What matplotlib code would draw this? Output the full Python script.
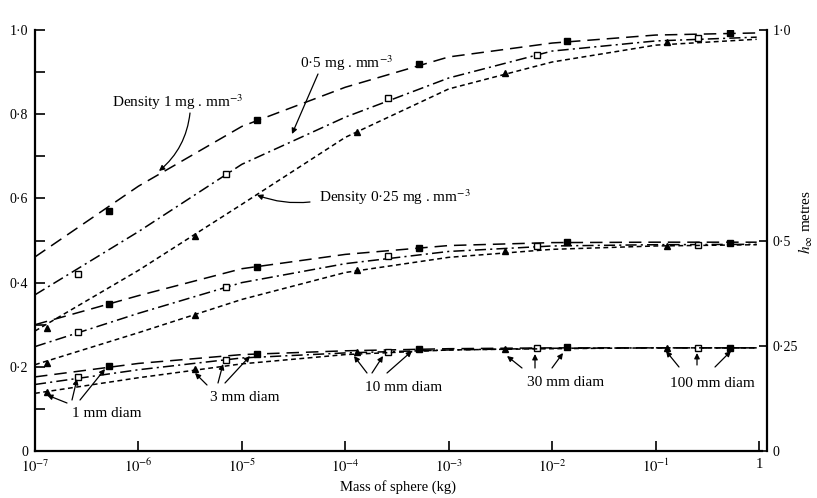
import numpy as np
import matplotlib
matplotlib.use('Agg')
import matplotlib.pyplot as plt
from matplotlib.ticker import FixedLocator, FixedFormatter, NullLocator

plt.rcParams['font.family'] = ['Liberation Serif', 'DejaVu Serif']
plt.rcParams['mathtext.fontset'] = 'stix'
plt.rcParams['lines.scale_dashes'] = False

# masses (kg) of the 1, 3, 10, 30, 100 mm spheres for each density
mass_d1 = [5.2e-7, 1.4e-5, 5.2e-4, 1.4e-2, 0.52]
mass_d05 = [2.6e-7, 7.1e-6, 2.6e-4, 7.1e-3, 0.26]
mass_d025 = [1.3e-7, 3.5e-6, 1.3e-4, 3.5e-3, 0.13]

curve_mass = [1e-7, 1e-6, 1e-5, 1e-4, 1e-3, 1e-2, 1e-1, 0.95]

# h_inf = 1.0 m
top_d1_curve = [0.461, 0.629, 0.771, 0.864, 0.936, 0.969, 0.988, 0.993]
top_d05_curve = [0.371, 0.521, 0.681, 0.793, 0.886, 0.950, 0.974, 0.983]
top_d025_curve = [0.285, 0.429, 0.586, 0.745, 0.860, 0.924, 0.964, 0.978]
top_d1_pts = [0.570, 0.786, 0.919, 0.974, 0.993]
top_d05_pts = [0.421, 0.657, 0.838, 0.941, 0.981]
top_d025_pts = [0.293, 0.510, 0.757, 0.898, 0.971]

# h_inf = 0.5 m
mid_d1_curve = [0.300, 0.369, 0.433, 0.467, 0.488, 0.495, 0.496, 0.496]
mid_d05_curve = [0.248, 0.327, 0.400, 0.445, 0.474, 0.487, 0.490, 0.491]
mid_d025_curve = [0.205, 0.281, 0.360, 0.424, 0.460, 0.479, 0.487, 0.490]
mid_d1_pts = [0.350, 0.438, 0.483, 0.497, 0.495]
mid_d05_pts = [0.283, 0.390, 0.462, 0.486, 0.490]
mid_d025_pts = [0.210, 0.324, 0.429, 0.474, 0.488]

# h_inf = 0.25 m
low_d1_curve = [0.176, 0.208, 0.229, 0.238, 0.243, 0.245, 0.245, 0.245]
low_d05_curve = [0.158, 0.193, 0.221, 0.233, 0.240, 0.244, 0.245, 0.245]
low_d025_curve = [0.137, 0.174, 0.207, 0.229, 0.240, 0.243, 0.245, 0.245]
low_d1_pts = [0.202, 0.231, 0.243, 0.247, 0.245]
low_d05_pts = [0.176, 0.217, 0.236, 0.245, 0.245]
low_d025_pts = [0.140, 0.195, 0.236, 0.243, 0.245]

x_ticks = [1e-7, 1e-6, 1e-5, 1e-4, 1e-3, 1e-2, 1e-1, 1]
x_ticklabels = ['$10^{-7}$', '$10^{-6}$', '$10^{-5}$', '$10^{-4}$',
                '$10^{-3}$', '$10^{-2}$', '$10^{-1}$', '1']
y_ticks = [0, 0.2, 0.4, 0.6, 0.8, 1.0]
y_ticklabels = ['0', '0·2', '0·4', '0·6', '0·8', '1·0']
h_ticks = [0, 0.25, 0.5, 1.0]
h_ticklabels = ['0', '0·25', '0·5', '1·0']

W, H = 817, 498


def px(x, y):
    # image pixel (from top-left) -> figure fraction
    return (x / W, 1 - y / H)


fig = plt.figure(figsize=(W / 100, H / 100), dpi=100)
ax = fig.add_axes([35 / W, 47 / H, 727 / W, 421 / H])

series = [
    # masses, curves, points, dashes, marker, facecolor
    (mass_d1, [top_d1_curve, mid_d1_curve, low_d1_curve],
     [top_d1_pts, mid_d1_pts, low_d1_pts], (9, 5), 's', 'black'),
    (mass_d05, [top_d05_curve, mid_d05_curve, low_d05_curve],
     [top_d05_pts, mid_d05_pts, low_d05_pts], (8, 3, 1.5, 3), 's', 'white'),
    (mass_d025, [top_d025_curve, mid_d025_curve, low_d025_curve],
     [top_d025_pts, mid_d025_pts, low_d025_pts], (3.5, 2.5), '^', 'black'),
]
for masses, curves, pts, dashes, mk, fc in series:
    for c, p in zip(curves, pts):
        ax.plot(curve_mass, c, color='black', lw=1.1, dashes=dashes)
        ax.plot(masses, p, ls='none', marker=mk, ms=4.5, mfc=fc,
                mec='black', mew=1.0)

ax.set_xscale('log')
ax.set_xlim(1e-7, 10 ** (3 / 103.4))
ax.set_ylim(0, 1)
for s in ['top', 'right']:
    ax.spines[s].set_visible(False)
for s in ['left', 'bottom']:
    ax.spines[s].set_linewidth(1.6)

ax.xaxis.set_major_locator(FixedLocator(x_ticks))
ax.xaxis.set_major_formatter(FixedFormatter(x_ticklabels))
ax.xaxis.set_minor_locator(NullLocator())
ax.yaxis.set_major_locator(FixedLocator(y_ticks))
ax.yaxis.set_major_formatter(FixedFormatter(y_ticklabels))
ax.yaxis.set_minor_locator(FixedLocator([0.1, 0.3, 0.5, 0.7, 0.9]))
ax.tick_params(axis='both', which='both', direction='in', length=7,
               width=1.2, labelsize=10, pad=5)
ax.tick_params(axis='x', labelsize=10.5)
ax.set_xlabel('Mass of sphere (kg)', fontsize=10.5, labelpad=3)

# right-hand h_inf scale
ax2 = ax.twinx()
ax2.set_ylim(0, 1)
for s in ['top', 'left', 'bottom']:
    ax2.spines[s].set_visible(False)
ax2.spines['right'].set_position(('outward', 3.6))
ax2.spines['right'].set_linewidth(1.6)
ax2.yaxis.set_major_locator(FixedLocator(h_ticks))
ax2.yaxis.set_major_formatter(FixedFormatter(h_ticklabels))
ax2.tick_params(axis='y', direction='in', length=6, width=1.2,
                labelsize=10, pad=4)
fig.text(*px(806, 222), '$h_{\\infty}$ metres', rotation=90,
         ha='center', va='center', fontsize=11)

# labels and pointer arrows
labels = [
    ('Density 1 mg . mm$^{-3}$', 112, 102),
    ('0·5 mg . mm$^{-3}$', 300, 63),
    ('Density 0·25 mg . mm$^{-3}$', 319, 197),
    ('1 mm diam', 72, 413),
    ('3 mm diam', 210, 397),
    ('10 mm diam', 365, 387),
    ('30 mm diam', 527, 382),
    ('100 mm diam', 670, 383),
]
for txt, x, y in labels:
    fig.text(*px(x, y), txt, ha='left', va='center', fontsize=11)

arrows = [
    ((190, 113), (159, 171), -0.2),
    ((318, 74), (292, 134), 0.0),
    ((310, 202), (257, 195), -0.12),
    ((67, 403), (47, 395), 0), ((72, 400), (77, 379), 0), ((80, 400), (105, 369), 0),
    ((207, 385), (195, 373), 0), ((218, 383), (223, 364), 0), ((225, 383), (250, 356), 0),
    ((367, 373), (354, 356), 0), ((372, 373), (383, 356), 0), ((387, 373), (412, 351), 0),
    ((522, 368), (507, 356), 0), ((535, 368), (535, 354), 0), ((552, 368), (563, 353), 0),
    ((679, 367), (666, 351), 0), ((697, 365), (697, 353), 0), ((715, 367), (731, 351), 0),
]
for tail, head, rad in arrows:
    ax.annotate('', xy=px(*head), xycoords='figure fraction',
                xytext=px(*tail), textcoords='figure fraction',
                arrowprops=dict(arrowstyle='-|>', color='black', lw=0.9,
                                mutation_scale=8, shrinkA=0, shrinkB=0,
                                connectionstyle='arc3,rad=%s' % rad))

fig.savefig('out.png', dpi=100)
